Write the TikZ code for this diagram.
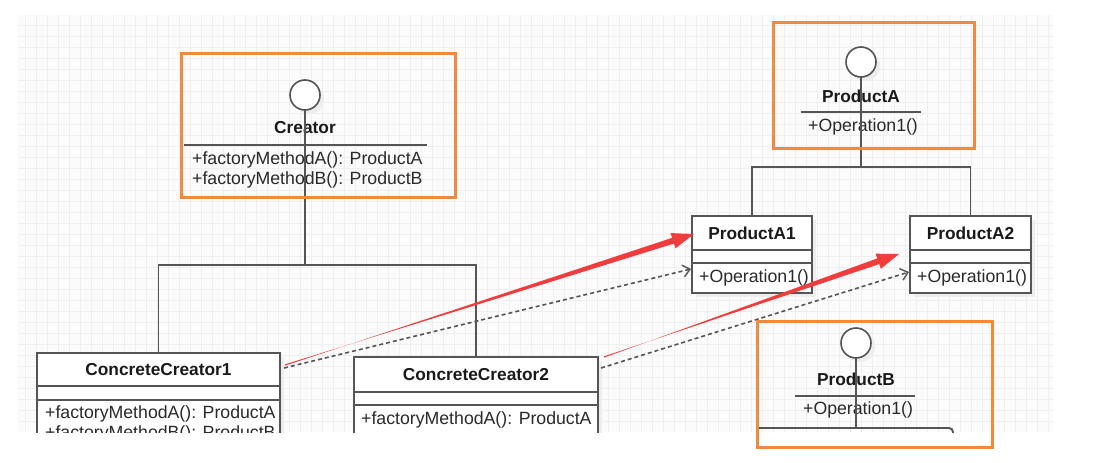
\documentclass[tikz,border=0pt]{standalone}
\usepackage{fontspec}
\setmainfont{Liberation Sans}
\usetikzlibrary{arrows.meta,calc}
\definecolor{orng}{HTML}{F5893A}
\definecolor{redar}{HTML}{F03C3C}
\definecolor{lineg}{HTML}{555555}
\definecolor{txt}{HTML}{1A1A1A}
\definecolor{memb}{HTML}{2A2A2A}
\definecolor{gridc}{HTML}{EFEFF2}
\newcommand\myredarrow[2]{%
  \coordinate (tmpH) at ($(#2)!22pt!(#1)$);
  \fill[redar] ($(#1)!0.6pt!90:(#2)$) -- ($(tmpH)!3pt!-90:(#2)$) -- ($(tmpH)!8pt!-90:(#2)$) -- (#2)
     -- ($(tmpH)!8pt!90:(#2)$) -- ($(tmpH)!3pt!90:(#2)$) -- ($(#1)!0.6pt!-90:(#2)$) -- cycle;}
\begin{document}
\begin{tikzpicture}[x=1pt,y=-1pt,
  umlbox/.style={draw=lineg, line width=1.9pt, fill=white, anchor=north west, inner sep=0pt, outer sep=0pt},
  shadowbox/.style={fill=black!7, draw=none, anchor=north west, inner sep=0pt, outer sep=0pt},
  title/.style={font=\fontsize{17.3}{20}\selectfont\bfseries, text=txt, inner sep=0pt},
  member/.style={font=\fontsize{17.7}{20}\selectfont, text=memb, inner sep=0pt, anchor=west},
  iface/.style={circle, draw=lineg, line width=1.6pt, fill=white, minimum size=30pt, inner sep=0pt, outer sep=0pt},
  ishadow/.style={circle, fill=black!7, minimum size=30pt, inner sep=0pt},
  wire/.style={draw=lineg, line width=1.9pt},
  highlight/.style={draw=orng, line width=3pt, anchor=north west, inner sep=0pt, outer sep=0pt, fill=none},
  dep/.style={draw=lineg, line width=1.6pt, dash pattern=on 4pt off 3pt, -{Straight Barb[length=7pt,width=12pt,line width=1.4pt]}},
]
\useasboundingbox (0,0) rectangle (1120,463);
\fill[white] (0,0) rectangle (1120,463);
\fill[gridc!25!white] (18,15) rectangle (1053,432);
\foreach \x in {25,36,...,1050} \draw[gridc, line width=1pt] (\x,15) -- (\x,432);
\foreach \y in {25,36,...,430} \draw[gridc, line width=1pt] (18,\y) -- (1053,\y);

\begin{scope}
\clip (0,0) rectangle (1120,432);
% ---------- Creator interface
\node[ishadow] at (309,99) {};
\node[iface] (cI) at (305,95) {};
\node[title] (cT) at (305,128) {Creator};
\coordinate (cSepL) at (184,145);
\coordinate (cSepR) at (427,145);
\draw[wire] (cSepL) -- (cSepR);
\node[member] (cM1) at (192,160) {+factoryMethodA(): ProductA};
\node[member] (cM2) at (192,180) {+factoryMethodB(): ProductB};

% ---------- ConcreteCreator1
\node[shadowbox, minimum width=243pt, minimum height=100pt] at (41,357) {};
\node[umlbox, minimum width=243pt, minimum height=100pt] (cc1) at (37,353) {};
\draw[wire] (37,386) -- (280,386);
\draw[wire] (37,400) -- (280,400);
\node[title] (cc1T) at (158.5,370) {ConcreteCreator1};
\node[member] (cc1M1) at (45,414) {+factoryMethodA(): ProductA};
\node[member] (cc1M2) at (45,434) {+factoryMethodB(): ProductB};

% ---------- ConcreteCreator2
\node[shadowbox, minimum width=244pt, minimum height=100pt] at (358,361) {};
\node[umlbox, minimum width=244pt, minimum height=100pt] (cc2) at (354,357) {};
\draw[wire] (354,392) -- (598,392);
\draw[wire] (354,405) -- (598,405);
\node[title] (cc2T) at (476,375) {ConcreteCreator2};
\node[member] (cc2M1) at (361,420) {+factoryMethodA(): ProductA};
\node[member] (cc2M2) at (361,443) {+factoryMethodB(): ProductB};

% Creator hierarchy
\coordinate (cBus) at (305,265);
\draw[wire] (cI.south) -- (cBus);
\draw[wire] (cc1.north) -- (cc1.north |- cBus) -- (cc2.north |- cBus) -- (cc2.north);

% ---------- ProductA interface
\node[ishadow] at (865,66) {};
\node[iface] (pA) at (861,62) {};
\node[title] (pAT) at (861,96) {ProductA};
\draw[wire] (801,112) -- (921,112);
\node[member] (pAM) at (808,127) {+Operation1()};

% ProductA1
\node[shadowbox, minimum width=120pt, minimum height=77pt] at (696,220) {};
\node[umlbox, minimum width=120pt, minimum height=77pt] (a1) at (692,216) {};
\draw[wire] (692,250) -- (812,250);
\draw[wire] (692,263) -- (812,263);
\node[title] (a1T) at (752,233) {ProductA1};
\node[member] (a1M) at (699,278) {+Operation1()};

% ProductA2
\node[shadowbox, minimum width=121pt, minimum height=77pt] at (914,220) {};
\node[umlbox, minimum width=121pt, minimum height=77pt] (a2) at (910,216) {};
\draw[wire] (910,250) -- (1031,250);
\draw[wire] (910,263) -- (1031,263);
\node[title] (a2T) at (970.5,233) {ProductA2};
\node[member] (a2M) at (917,278) {+Operation1()};

\coordinate (aBus) at (861,167);
\draw[wire] (pA.south) -- (aBus);
\draw[wire] (a1.north) -- (a1.north |- aBus) -- (a2.north |- aBus) -- (a2.north);

% ---------- ProductB interface
\node[ishadow] at (860,347) {};
\node[iface] (pB) at (856,343) {};
\node[title] (pBT) at (856,379) {ProductB};
\draw[wire] (795,396) -- (915,396);
\node[member] (pBM) at (803,410) {+Operation1()};
\coordinate (bBus) at (856,428);
\coordinate (bBusL) at (758,428);
\coordinate (bBusR) at (953,440);
\draw[wire] (pB.south) -- (bBus);
\draw[wire, rounded corners=4pt] (bBusL) -- (bBusR |- bBus) -- (bBusR);

% ---------- dependencies (dashed)
\coordinate (d1s) at ($(cc1.north east)+(4,15)$);
\coordinate (d1e) at ($(a1.west)+(-1,14.5)$);
\coordinate (d2s) at ($(cc2.north east)+(3,11)$);
\coordinate (d2e) at ($(a2.west)+(-1,17.5)$);
\draw[dep] (d1s) -- (d1e);
\draw[dep] (d2s) -- (d2e);

% ---------- red annotation arrows
\coordinate (r1s) at ($(cc1.north east)+(5,12)$);
\coordinate (r1e) at ($(a1.west)+(2,-20.5)$);
\coordinate (r2s) at ($(cc2.north east)+(6,0)$);
\coordinate (r2e) at ($(a2.west)+(-11,-0.5)$);
\myredarrow{r1s}{r1e}
\myredarrow{r2s}{r2e}
\end{scope}

% ---------- orange highlight boxes
\node[highlight, minimum width=274pt, minimum height=144pt] (hC) at (181,53) {};
\node[highlight, minimum width=201pt, minimum height=126pt] (hA) at (773,22) {};
\node[highlight, minimum width=235pt, minimum height=126pt] (hB) at (757,321) {};
\end{tikzpicture}
\end{document}
